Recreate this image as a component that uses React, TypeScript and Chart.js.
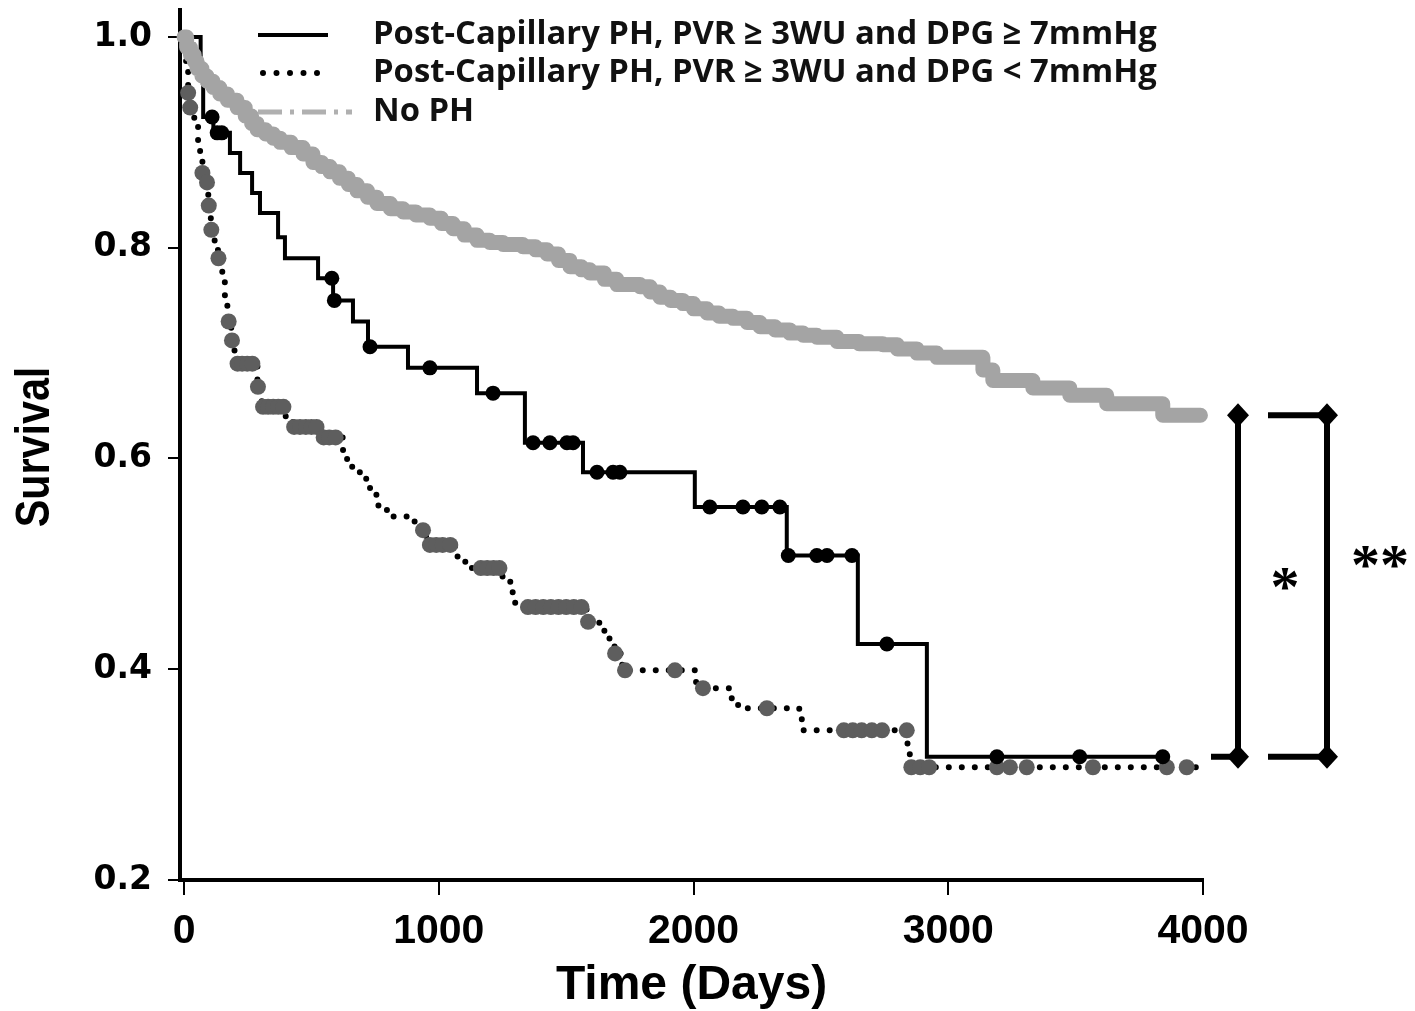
import React, { useEffect, useRef } from "react";
import { Chart, registerables } from "chart.js";

Chart.register(...registerables);

// ---------- data ----------
const X_TICKS = [0, 1000, 2000, 3000, 4000];
const Y_TICKS = [0.2, 0.4, 0.6, 0.8, 1.0];
const X_TITLE = "Time (Days)";
const Y_TITLE = "Survival";

const seriesNames = [
  "Post-Capillary PH, PVR \u2265 3WU and DPG \u2265 7mmHg",
  "Post-Capillary PH, PVR \u2265 3WU and DPG < 7mmHg",
  "No PH",
];

// Post-capillary PH, DPG >= 7 (solid black)
const highDpgTimes = [0, 65, 75, 115, 180, 220, 267, 298, 369, 396, 526, 585, 663, 722, 879, 1150, 1338, 1566, 2005, 2366, 2645, 2916];
const highDpgSurv = [1.0, 0.97, 0.924, 0.909, 0.89, 0.871, 0.852, 0.833, 0.81, 0.79, 0.771, 0.75, 0.73, 0.706, 0.686, 0.662, 0.615, 0.587, 0.554, 0.508, 0.424, 0.317];
const highDpgEnd = 3842;
const highDpgCensored = [110, 130, 148, 580, 590, 730, 965, 1213, 1370, 1436, 1503, 1527, 1621, 1684, 1711, 2064, 2194, 2268, 2339, 2372, 2484, 2524, 2622, 2759, 3191, 3516, 3842];

// Post-capillary PH, DPG < 7 (dotted)
const lowDpgTimes = [0, 8, 16, 24, 40, 55, 63, 72, 88, 95, 105, 120, 133, 150, 160, 168, 173, 185, 198, 205, 288, 298, 305, 396, 428, 542, 624, 640, 660, 690, 715, 730, 755, 763, 820, 905, 950, 1064, 1090, 1115, 1250, 1280, 1290, 1299, 1320, 1580, 1630, 1650, 1670, 1690, 1720, 2010, 2150, 2175, 2415, 2425, 2840, 2849];
const lowDpgSurv = [1.0, 0.975, 0.947, 0.933, 0.915, 0.9, 0.887, 0.871, 0.862, 0.84, 0.817, 0.803, 0.79, 0.77, 0.755, 0.745, 0.73, 0.712, 0.7, 0.69, 0.668, 0.658, 0.649, 0.64, 0.63, 0.62, 0.608, 0.598, 0.591, 0.582, 0.577, 0.57, 0.561, 0.551, 0.545, 0.532, 0.518, 0.507, 0.502, 0.496, 0.488, 0.483, 0.472, 0.463, 0.459, 0.445, 0.439, 0.431, 0.425, 0.415, 0.399, 0.382, 0.371, 0.363, 0.354, 0.342, 0.325, 0.307];
const lowDpgEnd = 3995;
const lowDpgCensored = [16, 24, 72, 90, 97, 107, 135, 175, 188, 210, 228, 248, 268, 290, 310, 330, 350, 370, 390, 432, 455, 478, 500, 520, 548, 570, 595, 938, 965, 990, 1015, 1045, 1165, 1190, 1215, 1238, 1350, 1380, 1410, 1440, 1470, 1500, 1530, 1560, 1586, 1692, 1731, 1927, 2037, 2288, 2590, 2625, 2660, 2700, 2740, 2837, 2855, 2890, 2925, 3191, 3242, 3308, 3568, 3858, 3936];

// No PH (thick grey band)
const noPhTimes = [0, 10, 25, 40, 51, 70, 90, 114, 140, 170, 208, 240, 265, 287, 320, 350, 377, 420, 467, 506, 540, 573, 610, 645, 679, 720, 757, 810, 860, 910, 965, 1010, 1056, 1100, 1150, 1200, 1252, 1330, 1380, 1425, 1470, 1515, 1560, 1593, 1650, 1699, 1790, 1830, 1868, 1910, 1958, 2000, 2053, 2100, 2155, 2210, 2261, 2320, 2378, 2430, 2484, 2563, 2650, 2743, 2800, 2877, 2955, 3136, 3175, 3332, 3477, 3622, 3842];
const noPhSurv = [1.0, 0.99, 0.983, 0.977, 0.97, 0.963, 0.958, 0.952, 0.946, 0.94, 0.933, 0.925, 0.918, 0.912, 0.908, 0.904, 0.9, 0.895, 0.889, 0.881, 0.877, 0.872, 0.866, 0.86, 0.854, 0.848, 0.842, 0.837, 0.834, 0.831, 0.828, 0.823, 0.818, 0.812, 0.807, 0.805, 0.803, 0.801, 0.798, 0.794, 0.788, 0.782, 0.779, 0.776, 0.77, 0.765, 0.763, 0.758, 0.753, 0.75, 0.747, 0.742, 0.738, 0.735, 0.733, 0.729, 0.725, 0.722, 0.719, 0.717, 0.715, 0.711, 0.709, 0.708, 0.704, 0.7, 0.696, 0.684, 0.674, 0.667, 0.66, 0.652, 0.641];
const noPhEnd = 3990;

// significance brackets (survival values at the ends) and labels
const bracketTop = [0.641, 0.641];
const bracketBottom = [0.317, 0.317];
const bracketLabels = ["*", "**"];

// ---------- helpers ----------
function stepPoints(times: number[], surv: number[], end: number) {
  const pts = times.map((t, i) => ({ x: t, y: surv[i] }));
  pts.push({ x: end, y: surv[surv.length - 1] });
  return pts;
}
function censorPoints(times: number[], surv: number[], cens: number[]) {
  return cens.map((c) => {
    let v = surv[0];
    for (let i = 0; i < times.length; i++) if (times[i] <= c) v = surv[i];
    return { x: c, y: v };
  });
}

const GREY = "#a4a4a4";
const DARK_GREY = "#5e5e5e";

const decorPlugin = {
  id: "kmDecor",
  afterDraw(chart: any) {
    const { ctx, chartArea, scales } = chart;
    const ys = scales.y;
    ctx.save();
    // ---- y axis title (condensed bold) ----
    ctx.save();
    ctx.translate(36, (chartArea.top + chartArea.bottom) / 2 + 2);
    ctx.rotate(-Math.PI / 2);
    ctx.scale(0.86, 1);
    ctx.fillStyle = "#000";
    ctx.font = "bold 48px 'Liberation Sans', Arial, sans-serif";
    ctx.textAlign = "center";
    ctx.textBaseline = "middle";
    ctx.fillText(Y_TITLE, 0, 0);
    ctx.restore();

    // ---- legend ----
    const lx0 = 258;
    const rows = [35, 73, 112];
    ctx.lineCap = "butt";
    ctx.strokeStyle = "#000";
    ctx.lineWidth = 4;
    ctx.setLineDash([]);
    ctx.beginPath();
    ctx.moveTo(lx0, rows[0]);
    ctx.lineTo(lx0 + 70, rows[0]);
    ctx.stroke();
    ctx.lineCap = "round";
    ctx.lineWidth = 6;
    ctx.setLineDash([0, 13.5]);
    ctx.beginPath();
    ctx.moveTo(lx0 + 5, rows[1]);
    ctx.lineTo(lx0 + 64, rows[1]);
    ctx.stroke();
    ctx.lineCap = "butt";
    ctx.lineWidth = 5;
    ctx.strokeStyle = "#b0b0b0";
    ctx.setLineDash([24, 8, 4, 8]);
    ctx.beginPath();
    ctx.moveTo(lx0, rows[2]);
    ctx.lineTo(lx0 + 94, rows[2]);
    ctx.stroke();
    ctx.setLineDash([]);
    ctx.fillStyle = "#111";
    ctx.font = "bold 32.8px 'Open Sans', Lato, sans-serif";
    ctx.textBaseline = "middle";
    ctx.textAlign = "left";
    seriesNames.forEach((n, i) => ctx.fillText(n, 373, rows[i]));

    // ---- significance brackets ----
    const xs = [chartArea.right + 35, chartArea.right + 124];
    ctx.strokeStyle = "#000";
    ctx.fillStyle = "#000";
    ctx.lineWidth = 6;
    ctx.lineCap = "butt";
    const diamond = (x: number, y: number) => {
      ctx.beginPath();
      ctx.moveTo(x, y - 12);
      ctx.lineTo(x + 11, y);
      ctx.lineTo(x, y + 12);
      ctx.lineTo(x - 11, y);
      ctx.closePath();
      ctx.fill();
    };
    xs.forEach((x, i) => {
      const top = ys.getPixelForValue(bracketTop[i]);
      const bot = ys.getPixelForValue(bracketBottom[i]);
      ctx.beginPath();
      ctx.moveTo(x, top);
      ctx.lineTo(x, bot);
      if (i === 0) {
        ctx.moveTo(x - 27, bot);
        ctx.lineTo(x, bot);
      } else {
        ctx.moveTo(x - 59, top);
        ctx.lineTo(x, top);
        ctx.moveTo(x - 59, bot);
        ctx.lineTo(x, bot);
      }
      ctx.stroke();
      diamond(x, top);
      diamond(x, bot);
    });
    ctx.font = "bold 58px 'Liberation Serif', serif";
    ctx.textAlign = "center";
    ctx.textBaseline = "alphabetic";
    const mid0 = (ys.getPixelForValue(bracketTop[0]) + ys.getPixelForValue(bracketBottom[0])) / 2;
    const mid1 = (ys.getPixelForValue(bracketTop[1]) + ys.getPixelForValue(bracketBottom[1])) / 2;
    ctx.fillText(bracketLabels[0], xs[0] + 47, mid0 + 20);
    ctx.fillText(bracketLabels[1], xs[1] + 53, mid1 - 2);
    ctx.restore();
  },
};

export default function App() {
  const ref = useRef<HTMLCanvasElement | null>(null);
  useEffect(() => {
    if (!ref.current) return;
    const chart = new Chart(ref.current, {
      type: "line",
      data: {
        datasets: [
          {
            label: seriesNames[0] + " censored",
            data: censorPoints(highDpgTimes, highDpgSurv, highDpgCensored),
            showLine: false,
            pointRadius: 7.5,
            pointBackgroundColor: "#000",
            pointBorderWidth: 0,
            order: 0,
          },
          {
            label: seriesNames[0],
            data: stepPoints(highDpgTimes, highDpgSurv, highDpgEnd),
            stepped: "before",
            borderColor: "#000",
            borderWidth: 4,
            pointRadius: 0,
            order: 3,
          },
          {
            label: seriesNames[1] + " censored",
            data: censorPoints(lowDpgTimes, lowDpgSurv, lowDpgCensored),
            showLine: false,
            pointRadius: 8,
            pointBackgroundColor: DARK_GREY,
            pointBorderWidth: 0,
            order: 1,
          },
          {
            label: seriesNames[1],
            data: stepPoints(lowDpgTimes, lowDpgSurv, lowDpgEnd),
            stepped: "before",
            borderColor: "#000",
            borderWidth: 6,
            borderDash: [0, 13],
            borderCapStyle: "round",
            pointRadius: 0,
            order: 4,
          },
          {
            label: seriesNames[2],
            data: stepPoints(noPhTimes, noPhSurv, noPhEnd),
            stepped: "before",
            borderColor: GREY,
            borderWidth: 15,
            borderCapStyle: "round",
            borderJoinStyle: "round",
            pointRadius: 0,
            order: 2,
          },
        ],
      },
      options: {
        animation: false,
        responsive: false,
        maintainAspectRatio: false,
        devicePixelRatio: 1,
        layout: { padding: { left: 0, right: 212, top: 10, bottom: 0 } },
        plugins: { legend: { display: false }, tooltip: { enabled: false } },
        elements: { line: { tension: 0 } },
        datasets: { line: { clip: false } as any },
        scales: {
          x: {
            type: "linear",
            min: -16,
            max: 4000,
            afterBuildTicks: (s: any) => {
              s.ticks = X_TICKS.map((v) => ({ value: v }));
            },
            afterFit: (s: any) => {
              s.height = 131;
              s.paddingLeft = 0;
              s.paddingRight = 0;
              s.paddingTop = 0;
              s.paddingBottom = 0;
            },
            ticks: {
              color: "#000",
              padding: 12,
              font: { family: "'Liberation Sans', Arial, sans-serif", weight: "bold", size: 41 },
              callback: (v: any) => String(v),
            },
            grid: { drawOnChartArea: false, drawTicks: true, tickLength: 15, lineWidth: 2, color: "#000" },
            border: { display: true, width: 4, color: "#000" },
            title: {
              display: true,
              text: X_TITLE,
              color: "#000",
              font: { family: "'Liberation Sans', Arial, sans-serif", weight: "bold", size: 48 },
              padding: { top: 0, bottom: -4 },
            },
          },
          y: {
            type: "linear",
            min: 0.2,
            max: 1.0256,
            afterBuildTicks: (s: any) => {
              s.ticks = Y_TICKS.map((v) => ({ value: v }));
            },
            afterFit: (s: any) => {
              s.width = 180;
              s.paddingLeft = 0;
              s.paddingRight = 0;
              s.paddingTop = 0;
              s.paddingBottom = 0;
            },
            ticks: {
              color: "#000",
              padding: 16,
              font: { family: "'DejaVu Sans', sans-serif", weight: "bold", size: 33 },
              callback: (v: any) => Number(v).toFixed(1),
            },
            grid: { drawOnChartArea: false, drawTicks: true, tickLength: 12, lineWidth: 2, color: "#000" },
            border: { display: true, width: 4, color: "#000" },
            title: { display: false, text: Y_TITLE },
          },
        },
      },
      plugins: [decorPlugin],
    } as any);
    return () => chart.destroy();
  }, []);
  return (
    <div style={{ position: "fixed", left: 0, top: 0, width: 1415, height: 1011, background: "#fff" }}>
      <canvas ref={ref} width={1415} height={1011} style={{ width: 1415, height: 1011, display: "block" }} />
    </div>
  );
}
